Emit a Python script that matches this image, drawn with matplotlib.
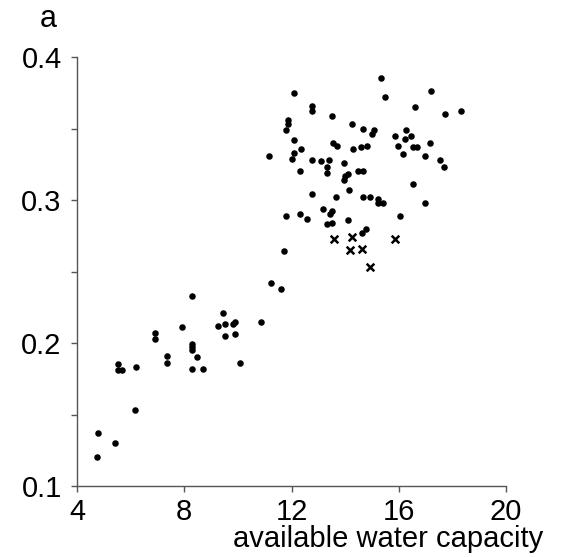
import matplotlib
matplotlib.use("Agg")
import matplotlib.pyplot as plt

plt.rcParams['font.family'] = ['Liberation Sans', 'DejaVu Sans']

# available water capacity (x) vs. response (y), filled dots
awc_dots = [4.73, 4.80, 5.42, 5.54, 5.54, 5.68, 6.19, 6.18, 6.92, 6.92,
            7.35, 7.35, 7.93, 8.30, 8.30, 8.30, 8.30, 8.47, 8.30, 8.69,
            9.27, 9.45, 9.52, 9.52, 9.81, 9.88, 9.88, 10.08, 10.87, 11.25,
            11.60,
            15.34, 12.09, 17.21, 15.49, 12.78, 12.78, 16.59, 18.34, 17.73,
            13.50, 11.87, 11.87, 11.79, 14.24, 14.67, 15.06, 15.01, 16.28,
            15.87, 16.23, 16.45, 17.17, 12.09, 13.53, 13.70, 12.37, 15.99,
            16.53, 16.68, 14.31, 14.59, 14.81, 11.15, 12.10, 12.03, 16.14,
            16.99, 12.78, 13.09, 13.38, 13.95, 17.54, 17.69, 13.32, 13.32,
            12.30, 14.09, 14.01, 14.47, 14.67, 13.96, 16.53, 14.14, 12.78,
            13.65, 14.67, 14.91, 15.21, 15.24, 15.41, 16.97, 13.19, 11.80,
            12.30, 12.59, 13.50, 13.44, 16.03, 13.32, 13.50, 14.11, 14.62,
            14.78, 11.71]
resp_dots = [0.120, 0.137, 0.130, 0.185, 0.181, 0.181, 0.183, 0.153, 0.207, 0.203,
             0.191, 0.186, 0.211, 0.233, 0.199, 0.197, 0.195, 0.190, 0.182, 0.182,
             0.212, 0.221, 0.213, 0.205, 0.213, 0.215, 0.206, 0.186, 0.215, 0.242,
             0.238,
             0.385, 0.375, 0.376, 0.372, 0.366, 0.362, 0.365, 0.362, 0.360,
             0.359, 0.356, 0.353, 0.349, 0.353, 0.350, 0.349, 0.346, 0.349,
             0.345, 0.343, 0.345, 0.340, 0.342, 0.340, 0.338, 0.336, 0.338,
             0.337, 0.337, 0.336, 0.337, 0.338, 0.331, 0.333, 0.329, 0.332,
             0.331, 0.328, 0.327, 0.328, 0.326, 0.328, 0.323, 0.323, 0.319,
             0.320, 0.318, 0.317, 0.320, 0.320, 0.314, 0.311, 0.307, 0.304,
             0.302, 0.302, 0.302, 0.301, 0.298, 0.298, 0.298, 0.294, 0.289,
             0.290, 0.287, 0.292, 0.290, 0.289, 0.283, 0.284, 0.286, 0.277,
             0.280, 0.264]

# crossed points
awc_cross = [13.60, 14.26, 14.19, 14.63, 15.87, 14.91]
resp_cross = [0.273, 0.274, 0.265, 0.266, 0.273, 0.253]

x_ticks = [4, 8, 12, 16, 20]
y_ticks = [0.1, 0.2, 0.3, 0.4]
y_minor = [0.15, 0.25, 0.35]

fig = plt.figure(figsize=(5.62, 5.57), dpi=100)
ax = fig.add_axes([77 / 562, 1 - 486 / 557, (506 - 77) / 562, (486 - 57) / 557])

ax.scatter(awc_dots, resp_dots, s=22, c='black', marker='o', linewidths=0, clip_on=False)
ax.scatter(awc_cross, resp_cross, s=30, c='black', marker='x', linewidths=1.8, clip_on=False)

ax.set_xlim(4, 20)
ax.set_ylim(0.1, 0.4)
ax.set_xticks(x_ticks)
ax.set_xticklabels([str(v) for v in x_ticks])
ax.set_yticks(y_ticks)
ax.set_yticklabels([f"{v:.1f}" for v in y_ticks])
ax.set_yticks(y_minor, minor=True)

for side in ('top', 'right'):
    ax.spines[side].set_visible(False)
for side in ('left', 'bottom'):
    ax.spines[side].set_color('#555555')
    ax.spines[side].set_linewidth(1.0)

ax.tick_params(axis='both', which='both', direction='out', length=4, width=1.0,
               color='#555555', labelsize=21, labelcolor='black')
ax.tick_params(axis='y', which='both', pad=7)
ax.tick_params(axis='x', which='both', pad=5)

fig.text(543 / 562, 1 - 547 / 557, "available water capacity", fontsize=21,
         ha='right', va='baseline', color='black')
fig.text(40 / 562, 1 - 27 / 557, "a", fontsize=22, ha='left', va='baseline', color='black')

fig.savefig("out.png", dpi=100, facecolor='white')
